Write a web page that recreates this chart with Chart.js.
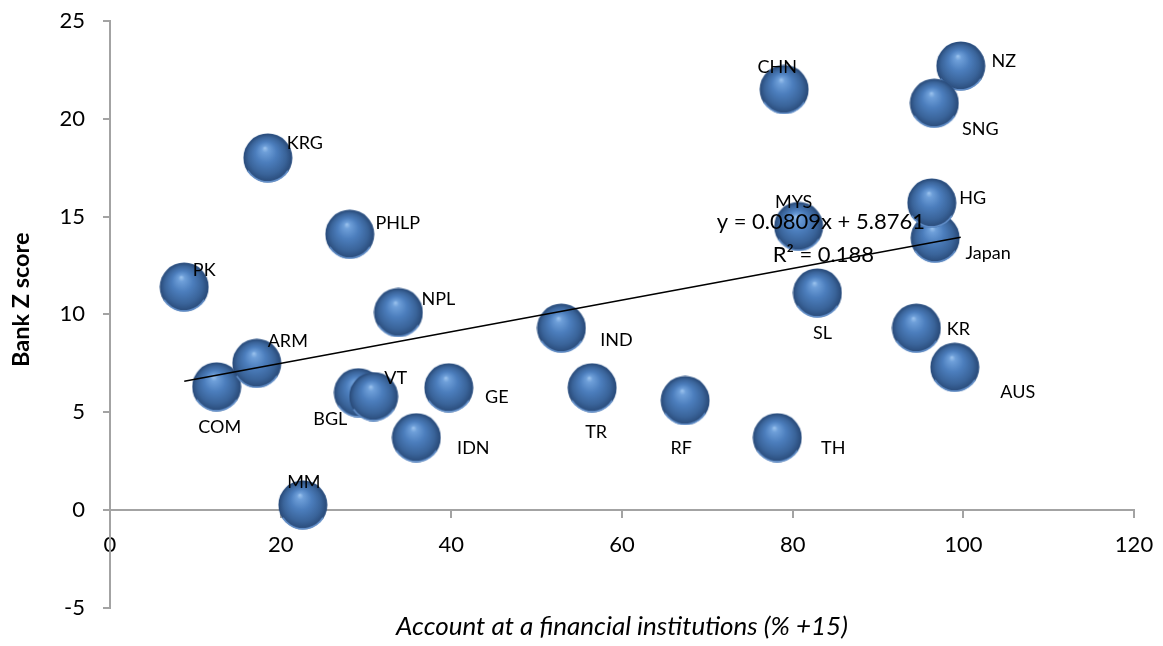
<!DOCTYPE html>
<html>
<head>
<meta charset="utf-8">
<script src="https://cdn.jsdelivr.net/npm/chart.js@4.4.1/dist/chart.umd.min.js"></script>
<style>
  html, body { margin: 0; padding: 0; background: #fff; }
  #wrap { width: 1163px; height: 646px; }
</style>
</head>
<body>
<div id="wrap"><canvas id="c" width="1163" height="646"></canvas></div>
<script>
// ---------------- DATA ----------------
const countries   = ['NZ','SNG','CHN','KRG','Japan','HG','MYS','PHLP','PK','SL','NPL','IND','KR','AUS','COM','ARM','BGL','VT','GE','TR','RF','IDN','TH','MM'];
const accountPct  = [99.7, 96.6, 79.0, 18.5, 96.7, 96.3, 80.7, 28.1, 8.7, 82.9, 33.8, 52.9, 94.5, 99.0, 12.5, 17.2, 29.1, 30.9, 39.7, 56.5, 67.4, 35.9, 78.2, 22.6];
const bankZScore  = [22.7, 20.8, 21.5, 18.0, 13.9, 15.7, 14.5, 14.1, 11.4, 11.1, 10.1, 9.3, 9.3, 7.3, 6.3, 7.5, 6.0, 5.8, 6.25, 6.25, 5.6, 3.7, 3.7, 0.26];
const trendX      = [8.7, 99.7];
const trendY      = [6.58, 13.94];
const xTicks      = [0, 20, 40, 60, 80, 100, 120];
const yTicks      = [-5, 0, 5, 10, 15, 20, 25];
const equationText = 'y = 0.0809x + 5.8761';
const r2Text       = 'R\u00B2 = 0.188';
const xTitle       = 'Account at a financial institutions (% +15)';
const yTitle       = 'Bank Z score';

// ---------------- STYLE ----------------
const FONT = 'Lato, "Open Sans", "DejaVu Sans", sans-serif';
const AXIS_GREY = '#a3a3a3';
// label offsets (pixels from sphere centre to label centre)
const labelOffsets = {
  NZ:[43,-5], SNG:[46,26], CHN:[-7,-22], KRG:[37,-15], Japan:[53,15], HG:[41,-5],
  MYS:[-5,-24], PHLP:[48,-11], PK:[20,-17], SL:[5,40], NPL:[40,-13], IND:[55,12],
  KR:[42,1], AUS:[63,25], COM:[3,40], ARM:[31,-22], BGL:[-28,27], VT:[22,-18],
  GE:[48,9], TR:[4,44], RF:[-4,48], IDN:[57,11], TH:[56,11], MM:[1,-23]
};

function makeSphere(d) {
  const c = document.createElement('canvas');
  c.width = d; c.height = d;
  const g = c.getContext('2d');
  const r = d / 2;
  const grad = g.createRadialGradient(r * 0.88, r * 0.6, 0, r, r * 1.02, r);
  grad.addColorStop(0.00, '#9ec5ef');
  grad.addColorStop(0.13, '#6e9fd9');
  grad.addColorStop(0.42, '#4c7ebd');
  grad.addColorStop(0.75, '#3a649a');
  grad.addColorStop(0.94, '#2b4d7c');
  grad.addColorStop(1.00, '#345c91');
  g.beginPath();
  g.arc(r, r, r - 0.5, 0, Math.PI * 2);
  g.fillStyle = grad;
  g.fill();
  g.beginPath();
  g.arc(r, r, r - 1.2, Math.PI * 0.18, Math.PI * 0.82);
  g.strokeStyle = 'rgba(105,150,210,0.85)';
  g.lineWidth = 1.6;
  g.stroke();
  return c;
}
const sphere = makeSphere(50);

const labelPlugin = {
  id: 'pointLabels',
  afterDatasetsDraw(chart) {
    const ctx = chart.ctx;
    const meta = chart.getDatasetMeta(1);
    ctx.save();
    ctx.font = '18px ' + FONT;
    ctx.fillStyle = '#000';
    ctx.textAlign = 'center';
    ctx.textBaseline = 'middle';
    meta.data.forEach((pt, i) => {
      const name = countries[i];
      const off = labelOffsets[name] || [0, -25];
      ctx.fillText(name, pt.x + off[0], pt.y + off[1]);
    });
    const xs = chart.scales.x, ys = chart.scales.y;
    ctx.font = '22px ' + FONT;
    ctx.fillText(equationText, xs.getPixelForValue(83.3), ys.getPixelForValue(14.75));
    ctx.fillText(r2Text, xs.getPixelForValue(83.6), ys.getPixelForValue(13.05));
    const ca = chart.chartArea;
    ctx.translate(21, ca.top + (ca.bottom - ca.top) * 0.475);
    ctx.rotate(-Math.PI / 2);
    ctx.font = 'bold 23.5px ' + FONT;
    ctx.fillText(yTitle, 0, 0);
    ctx.restore();
  }
};

new Chart(document.getElementById('c'), {
  type: 'scatter',
  data: {
    datasets: [
      {
        type: 'line',
        label: 'trend',
        data: trendX.map((x, i) => ({ x: x, y: trendY[i] })),
        borderColor: '#000',
        borderWidth: 1.6,
        pointRadius: 0,
        fill: false,
        order: 0
      },
      {
        label: 'countries',
        data: accountPct.map((x, i) => ({ x: x, y: bankZScore[i] })),
        pointStyle: sphere,
        pointRadius: 25,
        order: 1
      }
    ]
  },
  options: {
    responsive: false,
    animation: false,
    events: [],
    layout: { autoPadding: false, padding: { left: 0, top: 21, right: 29, bottom: 0 } },
    plugins: {
      legend: { display: false },
      tooltip: { enabled: false },
      title: {
        display: true,
        position: 'bottom',
        fullSize: false,
        text: xTitle,
        color: '#000',
        font: { family: FONT, size: 26, style: 'italic', weight: 'normal' },
        padding: { top: 3, bottom: 4 }
      }
    },
    scales: {
      x: {
        type: 'linear',
        min: 0, max: 120,
        position: { y: 0 },
        afterBuildTicks(scale) { scale.ticks = xTicks.map(v => ({ value: v })); },
        afterFit(scale) { scale.paddingLeft = 5; scale.paddingRight = 5; },
        ticks: { color: '#000', font: { family: FONT, size: 22 }, padding: 15 },
        grid: { display: true, drawOnChartArea: false, drawTicks: true, tickLength: 7, color: AXIS_GREY, lineWidth: 2 },
        border: { display: true, color: AXIS_GREY, width: 2 }
      },
      y: {
        type: 'linear',
        min: -5, max: 25,
        position: 'left',
        afterBuildTicks(scale) { scale.ticks = yTicks.map(v => ({ value: v })); },
        afterFit(scale) { scale.width = 110; scale.paddingTop = 5; scale.paddingBottom = 5; },
        ticks: { color: '#000', font: { family: FONT, size: 22 }, padding: 18 },
        grid: { display: true, drawOnChartArea: false, drawTicks: true, tickLength: 7, color: AXIS_GREY, lineWidth: 2 },
        border: { display: true, color: AXIS_GREY, width: 2 },
        title: { display: false }
      }
    }
  },
  plugins: [labelPlugin]
});
</script>
</body>
</html>
